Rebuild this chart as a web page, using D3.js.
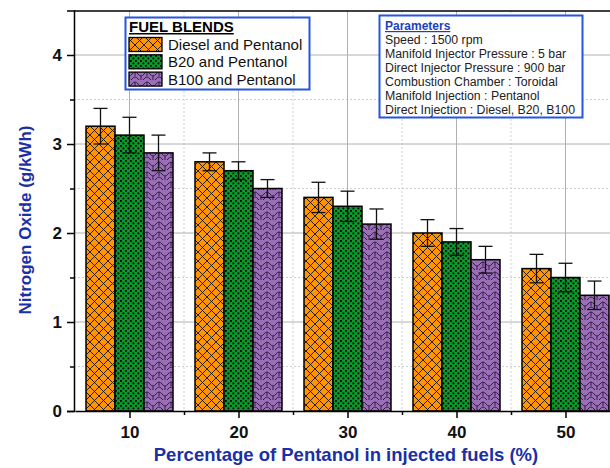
<!DOCTYPE html>
<html>
<head>
<meta charset="utf-8">
<script src="https://cdn.jsdelivr.net/npm/d3@7"></script>
<style>
  body { margin: 0; background: #fff; }
  svg { display: block; font-family: Arial, "Liberation Sans", sans-serif; }
</style>
</head>
<body>
<svg width="610" height="468"></svg>
<script>
// data
const categories = [10, 20, 30, 40, 50];
const series = ["Diesel and Pentanol", "B20 and Pentanol", "B100 and Pentanol"];
const dieselVals = [3.2, 2.8, 2.4, 2.0, 1.6];
const b20Vals = [3.1, 2.7, 2.3, 1.9, 1.5];
const b100Vals = [2.9, 2.5, 2.1, 1.7, 1.3];
const dieselErr = [0.2, 0.1, 0.17, 0.15, 0.16];
const b20Err = [0.2, 0.1, 0.17, 0.15, 0.16];
const b100Err = [0.2, 0.1, 0.17, 0.15, 0.16];
const yTicks = [0, 1, 2, 3, 4];
const paramLines = [
  "Speed : 1500 rpm",
  "Manifold Injector Pressure : 5 bar",
  "Direct Injector Pressure : 900 bar",
  "Combustion Chamber : Toroidal",
  "Manifold Injection : Pentanol",
  "Direct Injection : Diesel, B20, B100"
];

const values = [dieselVals, b20Vals, b100Vals];
const errors = [dieselErr, b20Err, b100Err];
const fills = ["pat-cross", "pat-dots", "pat-wave"];

const svg = d3.select("svg");
const blue = "#1b2fa6";

const x = d3.scaleLinear().domain([5, 55]).range([75, 620]);
const y = d3.scaleLinear().domain([0, 4.5]).range([411, 10.5]);
const inner = d3.scaleBand().domain(series).range([-43.5, 43.5]);

// patterns
const defs = svg.append("defs");
const p1 = defs.append("pattern").attr("id", "pat-cross")
  .attr("patternUnits", "userSpaceOnUse").attr("width", 9).attr("height", 9);
p1.append("rect").attr("width", 9).attr("height", 9).attr("fill", "#ff9500");
p1.append("path").attr("d", "M0,0L9,9M9,0L0,9M-1,8L1,10M8,-1L10,1M-1,1L1,-1M8,10L10,8")
  .attr("stroke", "#111").attr("stroke-width", 0.9);

const p2 = defs.append("pattern").attr("id", "pat-dots")
  .attr("patternUnits", "userSpaceOnUse").attr("width", 5).attr("height", 5);
p2.append("rect").attr("width", 5).attr("height", 5).attr("fill", "#0a9a2c");
p2.append("rect").attr("x", 0).attr("y", 0).attr("width", 1.8).attr("height", 1.8).attr("fill", "#000");
p2.append("rect").attr("x", 2.5).attr("y", 2.5).attr("width", 1.8).attr("height", 1.8).attr("fill", "#000");

const p3 = defs.append("pattern").attr("id", "pat-wave")
  .attr("patternUnits", "userSpaceOnUse").attr("width", 12).attr("height", 10);
p3.append("rect").attr("width", 12).attr("height", 10).attr("fill", "#9b6fb8");
p3.append("path")
  .attr("d", "M0,4 Q3,0 6,4 Q9,8 12,4 M0,9 Q3,5 6,9 M6,9 Q9,13 12,9 M3,2 L3,6 M9,6 L9,10")
  .attr("fill", "none").attr("stroke", "#2e1c40").attr("stroke-width", 1);

// grid
const grid = svg.append("g");
const minorY = d3.range(0.5, 4.5, 1);
const minorX = d3.range(15, 60, 10);
grid.selectAll(".gy").data(minorY).join("line")
  .attr("x1", 74).attr("x2", 610).attr("y1", d => y(d)).attr("y2", d => y(d))
  .attr("stroke", "#cfcfcf").attr("stroke-dasharray", "2,2");
grid.selectAll(".gx").data(minorX).join("line")
  .attr("y1", 11).attr("y2", 411).attr("x1", d => x(d)).attr("x2", d => x(d))
  .attr("stroke", "#cfcfcf").attr("stroke-dasharray", "2,2");
grid.selectAll(".Gy").data(yTicks.slice(1)).join("line")
  .attr("x1", 74).attr("x2", 610).attr("y1", d => y(d)).attr("y2", d => y(d))
  .attr("stroke", "#b0b0b0");
grid.selectAll(".Gx").data(categories).join("line")
  .attr("y1", 11).attr("y2", 411).attr("x1", d => x(d)).attr("x2", d => x(d))
  .attr("stroke", "#b0b0b0");

// bars
series.forEach((s, si) => {
  const g = svg.append("g");
  g.selectAll("rect").data(categories).join("rect")
    .attr("x", d => x(d) + inner(s))
    .attr("y", (d, i) => y(values[si][i]))
    .attr("width", inner.bandwidth())
    .attr("height", (d, i) => y(0) - y(values[si][i]))
    .attr("fill", `url(#${fills[si]})`)
    .attr("stroke", "#000").attr("stroke-width", 1.5);
});

// error bars
series.forEach((s, si) => {
  const g = svg.append("g").attr("stroke", "#111").attr("stroke-width", 1.3);
  categories.forEach((c, i) => {
    const cx = x(c) + inner(s) + inner.bandwidth() / 2;
    const v = values[si][i], e = errors[si][i];
    g.append("line").attr("x1", cx).attr("x2", cx).attr("y1", y(v + e)).attr("y2", y(v - e));
    g.append("line").attr("x1", cx - 7).attr("x2", cx + 7).attr("y1", y(v + e)).attr("y2", y(v + e));
    g.append("line").attr("x1", cx - 7).attr("x2", cx + 7).attr("y1", y(v - e)).attr("y2", y(v - e));
  });
});

// axes
const yAxis = svg.append("g").attr("transform", "translate(74,0)")
  .call(d3.axisLeft(y).tickValues(yTicks).tickSize(7).tickPadding(5).tickFormat(d3.format("d")));
yAxis.select(".domain").attr("stroke-width", 1.5);
yAxis.selectAll(".tick line").attr("stroke-width", 1.5);
yAxis.selectAll("text").attr("font-size", 17).attr("font-weight", "bold").attr("fill", "#111");
svg.append("g").attr("transform", "translate(74,0)")
  .call(d3.axisLeft(y).tickValues(minorY).tickSize(4).tickFormat(""))
  .call(a => a.select(".domain").remove())
  .selectAll("line").attr("stroke-width", 1.5);

const xAxis = svg.append("g").attr("transform", "translate(0,411)")
  .call(d3.axisBottom(x).tickValues(categories).tickSize(7).tickPadding(8).tickSizeOuter(0));
xAxis.select(".domain").attr("stroke-width", 1.5);
xAxis.selectAll(".tick line").attr("stroke-width", 1.5);
xAxis.selectAll("text").attr("font-size", 17).attr("font-weight", "bold").attr("fill", "#111");
svg.append("g").attr("transform", "translate(0,411)")
  .call(d3.axisBottom(x).tickValues(minorX).tickSize(4).tickFormat(""))
  .call(a => a.select(".domain").remove())
  .selectAll("line").attr("stroke-width", 1.5);

// top frame
svg.append("line").attr("x1", 74).attr("x2", 610).attr("y1", 11).attr("y2", 11)
  .attr("stroke", "#000").attr("stroke-width", 1.5);

// axis titles
svg.append("text").attr("transform", "translate(31,220) rotate(-90)")
  .attr("text-anchor", "middle").attr("font-size", 17).attr("font-weight", "bold")
  .attr("fill", blue).text("Nitrogen Oxide (g/kWh)");
svg.append("text").attr("x", 346).attr("y", 461)
  .attr("text-anchor", "middle").attr("font-size", 18.5).attr("font-weight", "bold")
  .attr("fill", blue).text("Percentage of Pentanol in injected fuels (%)");

// legend
const leg = svg.append("g");
leg.append("rect").attr("x", 125.5).attr("y", 17.5).attr("width", 184).attr("height", 72)
  .attr("fill", "#fff").attr("stroke", "#2457e0").attr("stroke-width", 2);
leg.append("text").attr("x", 129).attr("y", 32).attr("font-size", 15).attr("font-weight", "bold")
  .attr("text-decoration", "underline").attr("fill", "#000").text("FUEL BLENDS");
series.forEach((s, i) => {
  leg.append("rect").attr("x", 129).attr("y", 37.5 + i * 17.3).attr("width", 33).attr("height", 14)
    .attr("fill", `url(#${fills[i]})`).attr("stroke", "#000").attr("stroke-width", 1.3);
  leg.append("text").attr("x", 168).attr("y", 50 + i * 17.3).attr("font-size", 15)
    .attr("fill", "#111").text(s);
});

// parameters box
const pb = svg.append("g");
pb.append("rect").attr("x", 379.5).attr("y", 15.5).attr("width", 203).attr("height", 102)
  .attr("fill", "#fff").attr("stroke", "#2457e0").attr("stroke-width", 2);
pb.append("text").attr("x", 385).attr("y", 30).attr("font-size", 12).attr("font-weight", "bold")
  .attr("text-decoration", "underline").attr("fill", "#1c3fc0").text("Parameters");
pb.selectAll(".pl").data(paramLines).join("text")
  .attr("x", 385).attr("y", (d, i) => 44 + i * 14).attr("font-size", 12.3)
  .attr("fill", "#222").text(d => d);
</script>
</body>
</html>
